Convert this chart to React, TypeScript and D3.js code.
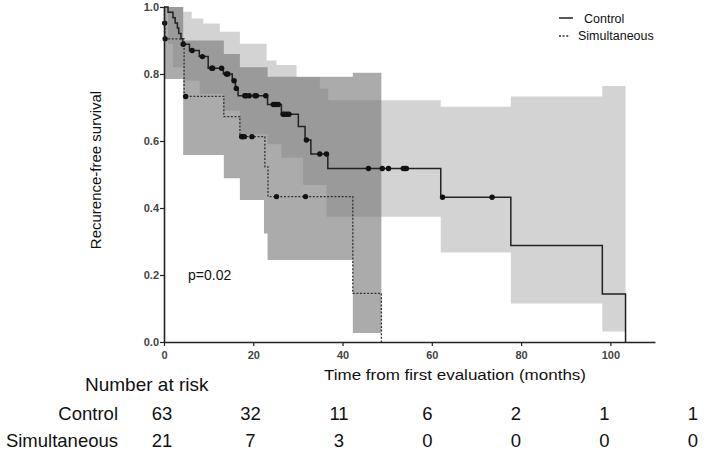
import { useEffect, useRef } from "react";
import * as d3 from "d3";

// Kaplan-Meier steps: time (months) and survival after each event
const controlTimes = [0, 0.9, 2.0, 2.5, 3.0, 3.3, 3.8, 4.2, 5.7, 7.9, 9.9, 13.3, 15.3, 16.0, 16.6, 23.2, 26.3, 30.1, 31.6, 32.9, 36.7, 62.0, 77.7, 98.2, 103.4];
const controlSurv = [1, 0.984, 0.968, 0.952, 0.937, 0.921, 0.905, 0.889, 0.87, 0.852, 0.817, 0.8, 0.78, 0.757, 0.735, 0.709, 0.68, 0.643, 0.603, 0.561, 0.518, 0.432, 0.288, 0.143, 0];
const controlCensored = [4.3, 6.3, 8.6, 10.7, 10.9, 12.9, 14.0, 14.3, 15.7, 16.2, 18.1, 18.4, 19.1, 20.4, 20.7, 22.8, 24.5, 25.0, 25.6, 26.7, 27.0, 27.5, 28.0, 31.9, 34.9, 36.4, 45.8, 48.9, 50.3, 53.6, 54.0, 54.3, 62.4, 73.5];

const simTimes = [0, 0.1, 0.2, 4.5, 13.4, 17.0, 22.6, 23.3, 42.3, 48.7];
const simSurv = [1, 0.952, 0.905, 0.733, 0.673, 0.613, 0.523, 0.434, 0.145, 0];
const simCensored = [0.15, 0.25, 4.85, 17.4, 17.6, 18.0, 19.7, 25.2, 31.7];

// 95% confidence bands (step functions)
const controlUpperT = [0, 4.3, 6.2, 8.8, 12.5, 17.0, 23.0, 25.2, 29.7, 34.9, 36.8, 62.0, 77.7, 98.2];
const controlUpperV = [1.0, 0.986, 0.966, 0.951, 0.926, 0.89, 0.84, 0.827, 0.79, 0.757, 0.722, 0.702, 0.733, 0.764];
const controlLowerT = [0, 0.9, 2.0, 4.3, 8.0, 13.4, 17.0, 23.2, 26.3, 31.2, 36.4, 62.0, 77.7, 98.2];
const controlLowerV = [1.0, 0.89, 0.82, 0.78, 0.74, 0.69, 0.62, 0.59, 0.55, 0.469, 0.374, 0.267, 0.115, 0.031];
const controlEnd = 103.4;

const simUpperT = [0, 4.3, 13.4, 17.0, 23.2, 42.3];
const simUpperV = [1.0, 0.9, 0.86, 0.82, 0.792, 0.804];
const simLowerT = [0, 4.3, 13.4, 17.0, 22.4, 23.2, 42.3];
const simLowerV = [0.785, 0.558, 0.489, 0.424, 0.324, 0.245, 0.027];
const simEnd = 48.7;

// number at risk table
const riskTimes = [0, 20, 40, 60, 80, 100, 120];
const riskControl = [63, 32, 11, 6, 2, 1, 1];
const riskSim = [21, 7, 3, 0, 0, 0, 0];

const xTicks = [0, 20, 40, 60, 80, 100];
const yTicks = [0, 0.2, 0.4, 0.6, 0.8, 1.0];

const W = 709, H = 454;

const stepAt = (T: number[], V: number[], t: number) => {
  let v = V[0];
  for (let i = 0; i < T.length; i++) if (T[i] <= t) v = V[i];
  return v;
};

function band(upT: number[], upV: number[], loT: number[], loV: number[], end: number) {
  const grid = Array.from(new Set([...upT, ...loT, end])).sort((a, b) => a - b);
  return grid.map((t) => ({ t, lo: stepAt(loT, loV, t), hi: stepAt(upT, upV, t) }));
}

export default function App() {
  const gx = useRef<SVGGElement>(null);
  const gy = useRef<SVGGElement>(null);

  const x = d3.scaleLinear().domain([0, 110]).range([164, 655]);
  const y = d3.scaleLinear().domain([0, 1]).range([342, 7]);
  const xr = d3.scalePoint<number>().domain(riskTimes).range([162, 693]);

  const area = d3
    .area<{ t: number; lo: number; hi: number }>()
    .curve(d3.curveStepAfter)
    .x((d) => x(d.t))
    .y0((d) => y(d.lo))
    .y1((d) => y(d.hi));

  const line = d3
    .line<[number, number]>()
    .curve(d3.curveStepAfter)
    .x((d) => x(d[0]))
    .y((d) => y(d[1]));

  const ctrlBand = band(controlUpperT, controlUpperV, controlLowerT, controlLowerV, controlEnd);
  const simBand = band(simUpperT, simUpperV, simLowerT, simLowerV, simEnd);

  const ctrlPts = controlTimes.map((t, i) => [t, controlSurv[i]] as [number, number]);
  const simPts = simTimes.map((t, i) => [t, simSurv[i]] as [number, number]);

  useEffect(() => {
    document.body.style.margin = "0";
    const ax = d3.select(gx.current!);
    ax.call(d3.axisBottom(x).tickValues(xTicks).tickSize(4).tickSizeOuter(0).tickFormat(d3.format("d")));
    ax.select(".domain").attr("stroke", "#222").attr("stroke-width", 1.6);
    ax.selectAll(".tick line").attr("stroke", "#222").attr("stroke-width", 1.2);
    ax.selectAll(".tick text")
      .attr("fill", "#444")
      .attr("font-size", 11)
      .attr("font-weight", "bold")
      .attr("font-family", "Liberation Sans, Arial, sans-serif")
      .attr("dy", "0.9em");

    const ay = d3.select(gy.current!);
    ay.call(d3.axisLeft(y).tickValues(yTicks).tickSize(4).tickSizeOuter(0).tickFormat(d3.format(".1f")));
    ay.select(".domain").attr("stroke", "#222").attr("stroke-width", 1.6);
    ay.selectAll(".tick line").attr("stroke", "#222").attr("stroke-width", 1.2);
    ay.selectAll(".tick text")
      .attr("fill", "#444")
      .attr("font-size", 11)
      .attr("font-weight", "bold")
      .attr("font-family", "Liberation Sans, Arial, sans-serif")
      .attr("x", -5);
  }, []);

  const font = "Liberation Sans, Arial, sans-serif";

  return (
    <svg width={W} height={H} style={{ display: "block", background: "#fff" }} fontFamily={font}>
      <path d={area(ctrlBand) ?? ""} fill="#d3d3d3" />
      <path d={area(simBand) ?? ""} fill="#757575" fillOpacity={0.61} />

      <path d={line(ctrlPts) ?? ""} fill="none" stroke="#222" strokeWidth={1.5} />
      <path d={line(simPts) ?? ""} fill="none" stroke="#333" strokeWidth={1.3} strokeDasharray="2,1.6" />

      {controlCensored.map((t, i) => (
        <circle key={"c" + i} cx={x(t)} cy={y(stepAt(controlTimes, controlSurv, t))} r={2.7} fill="#111" />
      ))}
      {simCensored.map((t, i) => (
        <circle key={"s" + i} cx={x(t)} cy={y(stepAt(simTimes, simSurv, t))} r={2.7} fill="#111" />
      ))}

      <g ref={gx} transform={`translate(0,${y(0)})`} />
      <g ref={gy} transform={`translate(${x(0)},0)`} />

      <text x={101} y={170} transform="rotate(-90,101,170)" textAnchor="middle" fontSize={15} fill="#111">
        Recurence-free survival
      </text>
      <text x={455} y={380} textAnchor="middle" fontSize={14.5} fill="#111" textLength={262} lengthAdjust="spacingAndGlyphs">
        Time from first evaluation (months)
      </text>
      <text x={188} y={280} fontSize={14} fill="#111">p=0.02</text>

      {/* legend */}
      <line x1={559} x2={573} y1={18} y2={18} stroke="#222" strokeWidth={1.5} />
      <text x={584} y={23} fontSize={12.5} fill="#111">Control</text>
      <line x1={559} x2={570} y1={36} y2={36} stroke="#333" strokeWidth={1.3} strokeDasharray="2,1.6" />
      <text x={578} y={40} fontSize={12.5} fill="#111">Simultaneous</text>

      {/* number at risk */}
      <text x={85} y={391} fontSize={19} fill="#111">Number at risk</text>
      <text x={118} y={420} textAnchor="end" fontSize={18.5} fill="#111">Control</text>
      <text x={118} y={447} textAnchor="end" fontSize={18.5} fill="#111">Simultaneous</text>
      {riskTimes.map((t, i) => (
        <text key={"rc" + i} x={xr(t)} y={420} textAnchor="middle" fontSize={18.5} fill="#111">
          {riskControl[i]}
        </text>
      ))}
      {riskTimes.map((t, i) => (
        <text key={"rs" + i} x={xr(t)} y={447} textAnchor="middle" fontSize={18.5} fill="#111">
          {riskSim[i]}
        </text>
      ))}
    </svg>
  );
}
